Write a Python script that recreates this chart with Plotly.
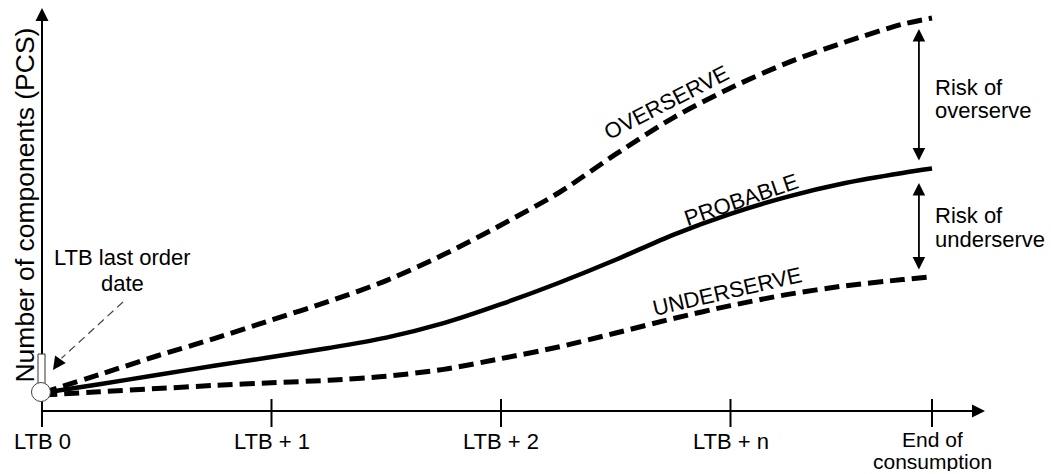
import plotly.graph_objects as go

# ---------------- data ----------------
periods = [0, 0.25, 0.5, 0.75, 1.0, 1.25, 1.5, 1.75, 2.0, 2.25, 2.5, 2.75, 3.0, 3.25, 3.5, 3.75, 3.878]
overserve = [4.5, 9.1, 13.75, 18.1, 22.75, 27.4, 32.6, 39.1, 46.5, 54.5, 64.2, 73.3, 80.75, 87.1, 92.25, 96.7, 98.25]
probable = [4.5, 6.7, 9.0, 11.3, 13.5, 15.75, 18.35, 21.95, 26.7, 32.0, 37.8, 44.05, 49.3, 53.6, 57.0, 59.5, 60.6]
underserve = [4.0, 4.8, 5.6, 6.4, 7.05, 7.7, 8.7, 10.4, 13.1, 16.0, 19.5, 23.1, 26.35, 29.15, 31.3, 32.85, 33.55]

tick_vals = [0, 1, 2, 3, 3.878]
tick_labels = ["LTB 0", "LTB + 1", "LTB + 2", "LTB + n", "End of<br>consumption"]

y_title = "Number of components (PCS)"
curve_labels = ["OVERSERVE", "PROBABLE", "UNDERSERVE"]

# ---------------- layout constants ----------------
X_RANGE = [-0.183, 4.3965]
Y_RANGE = [-15.75, 102.75]
FONT = "Liberation Sans, Arial, sans-serif"
FS = 22
LINE_BOX = 20
INK = "#000000"

fig = go.Figure()

fig.add_trace(go.Scatter(x=periods, y=overserve, mode="lines",
                         line=dict(color=INK, width=5, dash="15px,7px", shape="spline", smoothing=0.8),
                         hoverinfo="skip"))
fig.add_trace(go.Scatter(x=periods, y=probable, mode="lines",
                         line=dict(color=INK, width=4.5, shape="spline", smoothing=0.8),
                         hoverinfo="skip"))
fig.add_trace(go.Scatter(x=periods, y=underserve, mode="lines",
                         line=dict(color=INK, width=5, dash="15px,7px", shape="spline", smoothing=0.8),
                         hoverinfo="skip"))

shapes = []
annotations = []

# axes lines
shapes.append(dict(type="line", xref="x", yref="y", x0=0, y0=0, x1=4.05, y1=0,
                   line=dict(color=INK, width=2), layer="above"))
shapes.append(dict(type="line", xref="x", yref="y", x0=0, y0=-4.0, x1=0, y1=97.5,
                   line=dict(color=INK, width=2), layer="above"))
# arrow heads of axes
annotations.append(dict(x=4.109, y=0, ax=4.0, ay=0, xref="x", yref="y", axref="x", ayref="y",
                        text="", showarrow=True, arrowhead=2, arrowsize=1.3, arrowwidth=2, arrowcolor=INK))
annotations.append(dict(x=0, y=100.75, ax=0, ay=95, xref="x", yref="y", axref="x", ayref="y",
                        text="", showarrow=True, arrowhead=2, arrowsize=1.3, arrowwidth=2, arrowcolor=INK))

# ticks and tick labels
for tv, tl in zip(tick_vals, tick_labels):
    if tv != 0:
        shapes.append(dict(type="line", xref="x", yref="y", x0=tv, y0=3.0, x1=tv, y1=-4.0,
                           line=dict(color=INK, width=2), layer="above"))
    parts = tl.split("<br>")
    multi = len(parts) > 1
    for i, part in enumerate(parts):
        annotations.append(dict(x=tv, y=(-7.0 - i * 5.6) if multi else -7.4, xref="x", yref="y",
                                text=part, showarrow=False,
                                xanchor="center", yanchor="middle", height=LINE_BOX,
                                font=dict(family=FONT, size=21 if multi else FS, color=INK)))

# y title
annotations.append(dict(x=-0.076, y=51.5, xref="x", yref="y", text=y_title, textangle=-90,
                        showarrow=False, xanchor="center", yanchor="middle",
                        font=dict(family=FONT, size=26.5, color=INK)))

# LTB marker (rectangle + circle)
shapes.append(dict(type="rect", xref="x", yref="y", x0=-0.0174, x1=0.0131, y0=6.75, y1=14.25,
                   fillcolor="white", line=dict(color="#333333", width=1), layer="above"))
shapes.append(dict(type="circle", xref="x", yref="y", x0=-0.0458, x1=0.037, y0=2.375, y1=7.125,
                   fillcolor="white", line=dict(color="#444444", width=1), layer="above"))

# LTB last order date label with dashed leader
annotations.append(dict(x=0.3486, y=38.4, xref="x", yref="y", text="LTB last order", showarrow=False,
                        xanchor="center", yanchor="middle", height=LINE_BOX,
                        font=dict(family=FONT, size=FS, color=INK)))
annotations.append(dict(x=0.3486, y=31.9, xref="x", yref="y", text="date", showarrow=False,
                        xanchor="center", yanchor="middle", height=LINE_BOX,
                        font=dict(family=FONT, size=FS, color=INK)))
shapes.append(dict(type="line", xref="x", yref="y", x0=0.353, y0=27.25, x1=0.085, y1=13.2,
                   line=dict(color="#444444", width=1.2, dash="8px,5px"), layer="above"))
annotations.append(dict(x=0.048, y=10.25, ax=0.08, ay=12.9, xref="x", yref="y", axref="x", ayref="y",
                        text="", showarrow=True, arrowhead=2, arrowsize=2.6, arrowwidth=1, arrowcolor=INK))

# risk arrows
annotations.append(dict(x=3.821, y=95.5, ax=3.821, ay=62.25, xref="x", yref="y", axref="x", ayref="y",
                        text="", showarrow=True, arrowhead=2, arrowside="end+start",
                        arrowsize=1.4, arrowwidth=1.8, arrowcolor=INK))
annotations.append(dict(x=3.821, y=57.0, ax=3.821, ay=35.0, xref="x", yref="y", axref="x", ayref="y",
                        text="", showarrow=True, arrowhead=2, arrowside="end+start",
                        arrowsize=1.4, arrowwidth=1.8, arrowcolor=INK))
for txt, yy in [("Risk of", 81.0), ("overserve", 75.3), ("Risk of", 49.0), ("underserve", 43.0)]:
    annotations.append(dict(x=3.883, y=yy, xref="x", yref="y", text=txt, showarrow=False,
                            xanchor="left", yanchor="middle", height=LINE_BOX,
                            font=dict(family=FONT, size=FS, color=INK)))

# curve labels
for txt, xx, yy, ang in zip(curve_labels, [2.72, 3.05, 2.985], [77.2, 52.8, 29.9], [-27, -19, -13]):
    annotations.append(dict(x=xx, y=yy, xref="x", yref="y", text=txt, showarrow=False, textangle=ang,
                            xanchor="center", yanchor="middle", font=dict(family=FONT, size=FS, color=INK)))

fig.update_layout(
    width=1051, height=474, autosize=False,
    margin=dict(l=0, r=0, t=0, b=0, pad=0),
    paper_bgcolor="white", plot_bgcolor="white",
    showlegend=False,
    xaxis=dict(range=X_RANGE, visible=False, fixedrange=True),
    yaxis=dict(range=Y_RANGE, visible=False, fixedrange=True),
    shapes=shapes, annotations=annotations,
)

fig.write_html("out.html", config={"displayModeBar": False},
               post_script="document.body.style.margin='0';document.body.style.padding='0';")
